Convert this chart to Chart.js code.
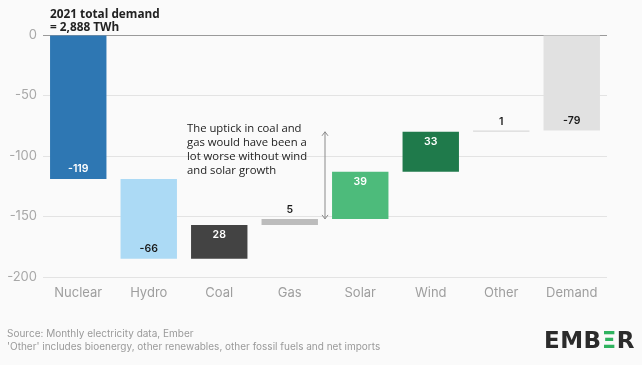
<!DOCTYPE html>
<html>
<head>
<meta charset="utf-8">
<script src="https://cdn.jsdelivr.net/npm/chart.js@4"></script>
<style>
  html,body{margin:0;padding:0;background:#fafafa;}
  #wrap{position:relative;width:642px;height:365px;overflow:hidden;background:#fafafa;font-family:Inter,"Open Sans",sans-serif;}
  canvas{position:absolute;left:0;top:0;}
  .t{position:absolute;white-space:nowrap;}
  #title{left:50px;top:7px;font-size:11.8px;font-weight:700;line-height:12.5px;color:#222;font-family:"Open Sans",sans-serif;}
  #note{left:187px;top:121px;font-size:11.3px;line-height:14px;color:#222;font-family:"Open Sans",sans-serif;}
  #src{left:7px;top:327px;font-size:10px;line-height:13px;color:#9a9a9a;}
  #logo{left:544px;top:327px;font-size:23px;font-weight:800;color:#2b2b2b;letter-spacing:0.5px;font-family:"DejaVu Sans",Inter,sans-serif;}
  #logo span{color:#2fb35f;}
</style>
</head>
<body>
<div id="wrap">
  <canvas id="c" width="642" height="365"></canvas>
  <div class="t" id="title">2021 total demand<br>= 2,888 TWh</div>
  <div class="t" id="note">The uptick in coal and<br>gas would have been a<br>lot worse without wind<br>and solar growth</div>
  <div class="t" id="src">Source: Monthly electricity data, Ember<br>'Other' includes bioenergy, other renewables, other fossil fuels and net imports</div>
  <div class="t" id="logo">EMB<span>Ξ</span>R</div>
</div>
<script>
// ---- data ----
const categories = ["Nuclear", "Hydro", "Coal", "Gas", "Solar", "Wind", "Other", "Demand"];
const changes = [-119, -66, 28, 5, 39, 33, 1];   // change in TWh per source
const demandChange = -79;                         // total change in demand
const yTicks = [0, -50, -100, -150, -200];

// ---- styles ----
const barColors = ["#2e77b3", "#acdaf5", "#434343", "#bcbcbc", "#4dbb7b", "#1f7a4b", "#d9d9d9", "#e1e1e1"];
const labelColors = ["#ffffff", "#1a1a1a", "#ffffff", "#1a1a1a", "#ffffff", "#ffffff", "#1a1a1a", "#1a1a1a"];

// build floating bars from the waterfall steps
const floats = [];
const levels = [0];
let run = 0;
changes.forEach(v => { floats.push([run, run + v]); run += v; levels.push(run); });
floats.push([0, demandChange]);
const labelValues = changes.concat([demandChange]);

const bg = {
  id: 'bg',
  beforeDraw(chart) {
    const ctx = chart.ctx;
    ctx.save(); ctx.fillStyle = '#fafafa'; ctx.fillRect(0, 0, chart.width, chart.height); ctx.restore();
  }
};

const labels = {
  id: 'labels',
  afterDatasetsDraw(chart) {
    const ctx = chart.ctx;
    const meta = chart.getDatasetMeta(0);
    ctx.save();
    ctx.font = '600 10.5px Inter, "Open Sans", sans-serif';
    ctx.textAlign = 'center';
    ctx.textBaseline = 'middle';
    meta.data.forEach((bar, i) => {
      const v = labelValues[i];
      const top = Math.min(bar.y, bar.base), bottom = Math.max(bar.y, bar.base);
      const h = bottom - top;
      let y;
      if (v < 0) y = bottom - 10;
      else if (h < 20) y = top - 9;
      else y = top + 10;
      ctx.fillStyle = labelColors[i];
      ctx.fillText(String(v), bar.x, y);
    });
    // annotation arrow between Gas and Solar
    const xs = chart.scales.x, ys = chart.scales.y;
    const ax = (xs.getPixelForValue(3) + xs.getPixelForValue(4)) / 2;
    const y1 = ys.getPixelForValue(levels[6]);
    const y2 = ys.getPixelForValue(levels[4]);
    ctx.strokeStyle = '#8a8a8a';
    ctx.lineWidth = 1;
    ctx.beginPath();
    ctx.moveTo(ax, y1); ctx.lineTo(ax, y2);
    ctx.moveTo(ax - 3, y1 + 4); ctx.lineTo(ax, y1); ctx.lineTo(ax + 3, y1 + 4);
    ctx.moveTo(ax - 3, y2 - 4); ctx.lineTo(ax, y2); ctx.lineTo(ax + 3, y2 - 4);
    ctx.stroke();
    ctx.restore();
  }
};

new Chart(document.getElementById('c'), {
  type: 'bar',
  data: {
    labels: categories,
    datasets: [{
      data: floats,
      backgroundColor: barColors,
      borderWidth: 0,
      barPercentage: 0.8,
      categoryPercentage: 1.0
    }]
  },
  options: {
    responsive: false,
    animation: false,
    layout: { padding: { top: 35, right: 35, bottom: 58, left: 0 } },
    plugins: { legend: { display: false }, tooltip: { enabled: false } },
    scales: {
      x: {
        grid: { display: false, drawTicks: false },
        border: { display: false },
        ticks: { color: '#9e9e9e', font: { size: 13, family: 'Inter, "Open Sans", sans-serif' }, padding: 8 },
        afterFit(s) { s.height = 30; }
      },
      y: {
        min: -200, max: 0,
        afterBuildTicks(s) { s.ticks = yTicks.map(v => ({ value: v })); },
        grid: {
          drawTicks: false,
          color: ctx => (ctx.tick && ctx.tick.value === 0) ? '#9a9a9a' : '#e3e3e3',
          lineWidth: 1
        },
        border: { display: false },
        ticks: { color: '#a8a8a8', font: { size: 13, family: 'Inter, "Open Sans", sans-serif' }, padding: 6 },
        afterFit(s) { s.width = 43; }
      }
    }
  },
  plugins: [bg, labels]
});
</script>
</body>
</html>
